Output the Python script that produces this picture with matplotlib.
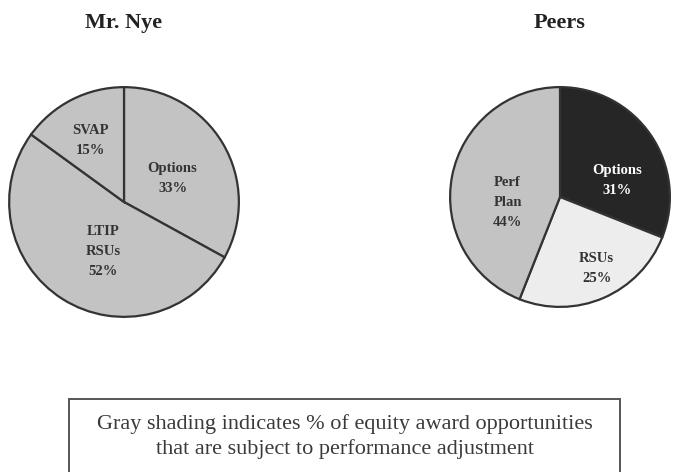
import numpy as np
import matplotlib.pyplot as plt

# Mr. Nye equity mix
nye_labels = ['Options', 'LTIP\nRSUs', 'SVAP']
nye_values = [33, 52, 15]
nye_colors = ['#c3c3c3', '#c3c3c3', '#c3c3c3']

# Peer equity mix
peer_labels = ['Options', 'RSUs', 'Perf\nPlan']
peer_values = [31, 25, 44]
peer_colors = ['#262626', '#ededed', '#c3c3c3']
peer_textcolors = ['white', '#333333', '#333333']

W, H = 674, 472
fig = plt.figure(figsize=(W / 100, H / 100), dpi=100)
fig.patch.set_facecolor('white')

serif = 'Liberation Serif'


def draw_pie(cx, cy, r, values, labels, colors, tcolors, title, dists, shifts):
    ax = fig.add_axes([(cx - r) / W, (H - cy - r) / H, 2 * r / W, 2 * r / H])
    wedges, _ = ax.pie(values, colors=colors, startangle=90, counterclock=False,
                       wedgeprops=dict(edgecolor='#333333', linewidth=1.6))
    # labels inside each wedge, nudged a little like the original
    for w, lab, v, c, d, s in zip(wedges, labels, values, tcolors, dists, shifts):
        ang = np.deg2rad((w.theta1 + w.theta2) / 2 + s)
        ax.text(d * np.cos(ang), d * np.sin(ang), f'{lab}\n{v}%', ha='center', va='center',
                color=c, fontfamily=serif, fontweight='bold', fontsize=10.5, linespacing=1.7)
    ax.set_xlim(-1.01, 1.01)
    ax.set_ylim(-1.01, 1.01)
    ax.set_aspect('equal')
    ax.axis('off')
    fig.text(cx / W, 1 - 23 / H, title, ha='center', va='center', fontfamily=serif,
             fontweight='bold', fontsize=16, color='#222222')


draw_pie(124, 202, 116, nye_values, nye_labels, nye_colors,
         ['#333333'] * 3, 'Mr. Nye', [0.47, 0.47, 0.61], [-4.6, 9.6, 1.7])
draw_pie(560, 197, 111, peer_values, peer_labels, peer_colors,
         peer_textcolors, 'Peers', [0.54, 0.73, 0.48], [-18, 3.8, 17])

# note box (bottom edge runs off the figure)
box_l, box_r, box_t, box_b = 69, 620, 399, 480
fig.patches.append(plt.Rectangle((box_l / W, 1 - box_b / H), (box_r - box_l) / W,
                                 (box_b - box_t) / H, transform=fig.transFigure,
                                 fill=False, edgecolor='#555555', linewidth=1.4))
fig.text((box_l + box_r) / 2 / W, 1 - 436.5 / H,
         'Gray shading indicates % of equity award opportunities\n'
         'that are subject to performance adjustment',
         ha='center', va='center', fontfamily=serif, fontsize=16, color='#3a3a3a',
         linespacing=1.35)

fig.savefig('out.png', dpi=100)
